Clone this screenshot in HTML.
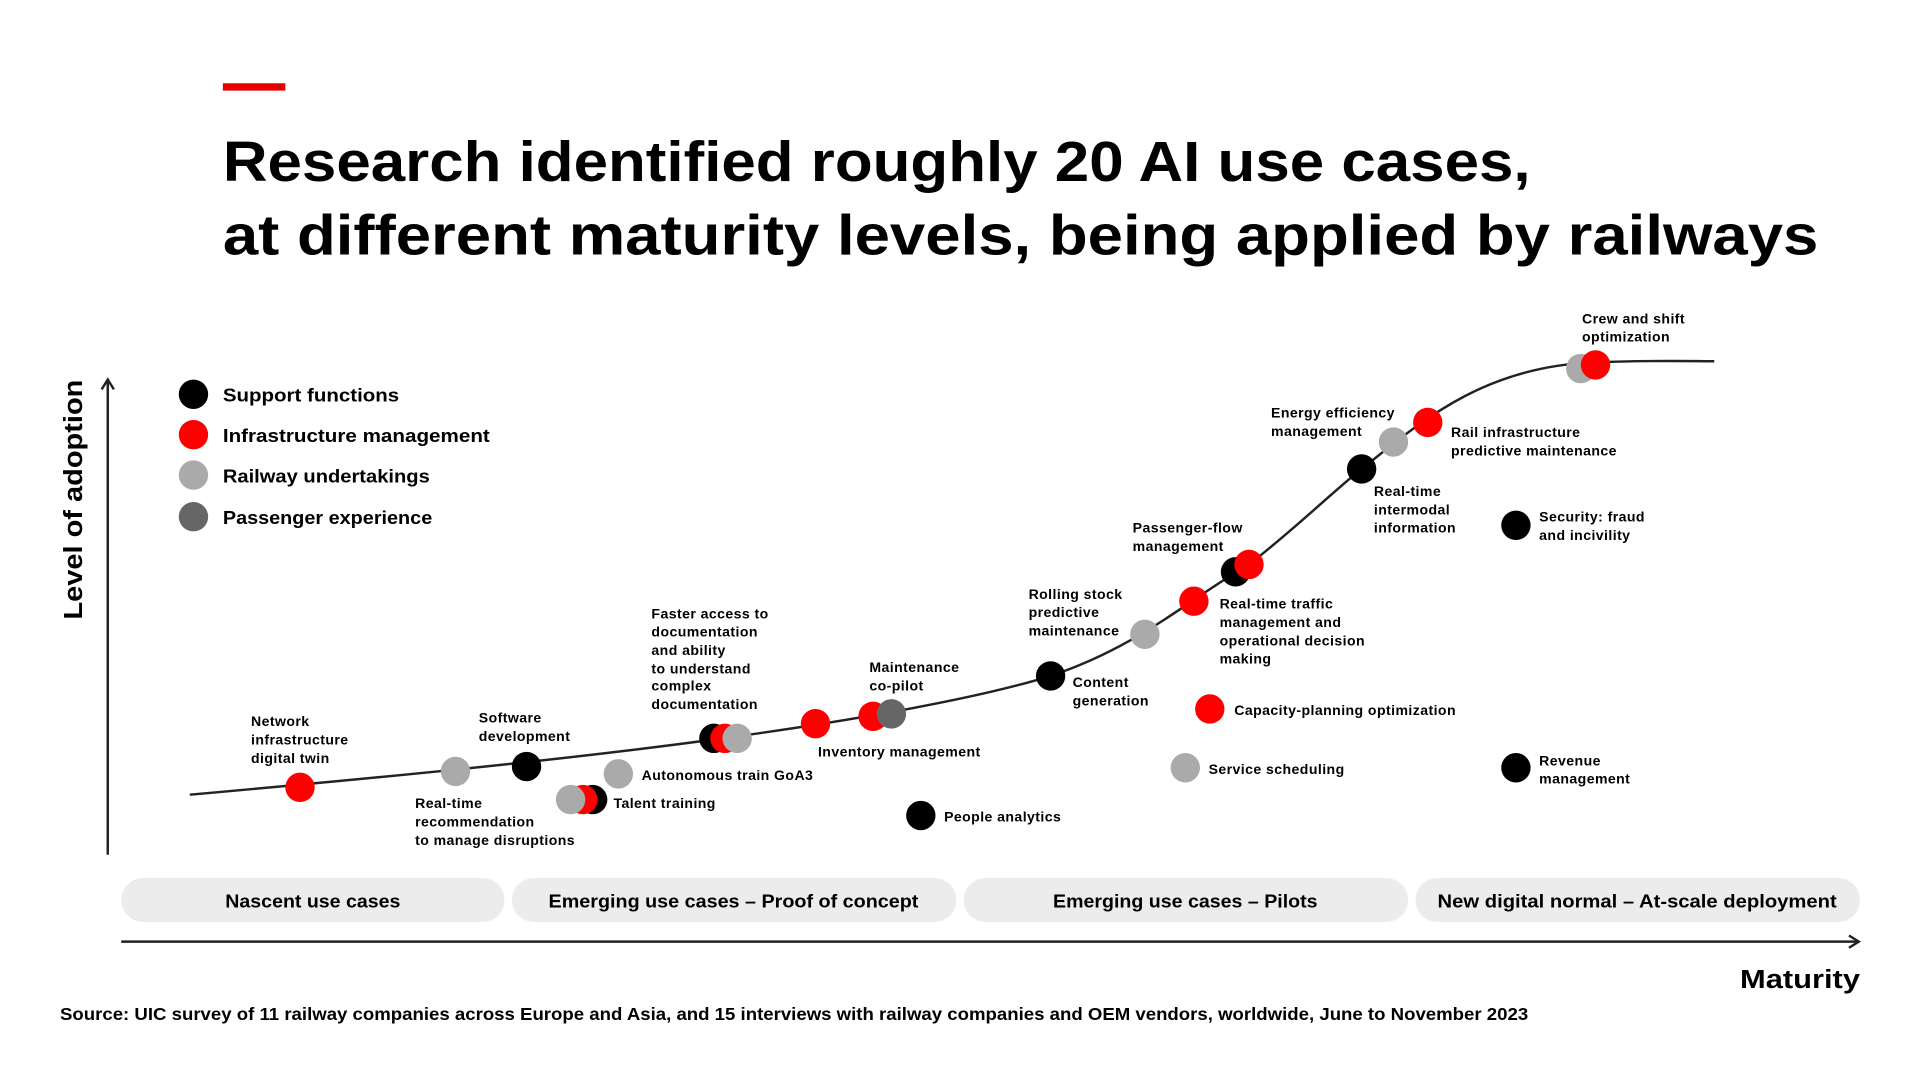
<!DOCTYPE html>
<html><head><meta charset="utf-8"><style>html,body{margin:0;padding:0;background:#fff}svg{display:block}text{font-family:"Liberation Sans",sans-serif;fill:#000}</style></head>
<body>
<svg width="1920" height="1080" viewBox="0 0 1568 882" preserveAspectRatio="none" xmlns="http://www.w3.org/2000/svg">
<rect x="182" y="68" width="51" height="6" fill="#e60000"/>
<text x="182" y="148" font-size="46" font-weight="bold" textLength="1068" lengthAdjust="spacingAndGlyphs">Research identified roughly 20 AI use cases,</text>
<text x="182" y="208" font-size="46" font-weight="bold" textLength="1303" lengthAdjust="spacingAndGlyphs">at different maturity levels, being applied by railways</text>

<!-- y axis -->
<line x1="88" y1="698" x2="88" y2="312" stroke="#222" stroke-width="2"/>
<path d="M83 318 L88 310 L93 318" fill="none" stroke="#222" stroke-width="2"/>
<text transform="translate(67,506) rotate(-90)" font-size="21" font-weight="bold" textLength="196" lengthAdjust="spacingAndGlyphs">Level of adoption</text>

<!-- legend -->
<circle cx="158" cy="322" r="12" fill="#000"/><text x="182" y="328" font-size="15" font-weight="bold" textLength="144" lengthAdjust="spacingAndGlyphs">Support functions</text>
<circle cx="158" cy="355" r="12" fill="#f00"/><text x="182" y="361" font-size="15" font-weight="bold" textLength="218" lengthAdjust="spacingAndGlyphs">Infrastructure management</text>
<circle cx="158" cy="388" r="12" fill="#aaa"/><text x="182" y="394" font-size="15" font-weight="bold" textLength="169" lengthAdjust="spacingAndGlyphs">Railway undertakings</text>
<circle cx="158" cy="422" r="12" fill="#666"/><text x="182" y="428" font-size="15" font-weight="bold" textLength="171" lengthAdjust="spacingAndGlyphs">Passenger experience</text>

<!-- curve -->
<path d="M155 649 C300 636 450 622 590 603 C700 588 800 570 858 552 C930 528 970 490 1020 461 C1060 430 1090 400 1112 383 C1160 345 1210 300 1300 296 C1350 294 1380 295 1400 295" fill="none" stroke="#222" stroke-width="2"/>

<g font-size="11.5" font-weight="bold" letter-spacing="0.35">
<circle cx="245" cy="643" r="12" fill="#f00"/>
<text x="205" y="593">Network</text><text x="205" y="608">infrastructure</text><text x="205" y="623">digital twin</text>
<circle cx="372" cy="630" r="12" fill="#aaa"/>
<text x="339" y="660">Real-time</text><text x="339" y="675">recommendation</text><text x="339" y="690">to manage disruptions</text>
<circle cx="430" cy="626" r="12" fill="#000"/>
<text x="391" y="590">Software</text><text x="391" y="605">development</text>
<circle cx="505" cy="632" r="12" fill="#aaa"/>
<text x="524" y="637">Autonomous train GoA3</text>
<circle cx="484" cy="653" r="12" fill="#000"/><circle cx="476" cy="653" r="12" fill="#f00"/><circle cx="466" cy="653" r="12" fill="#aaa"/>
<text x="501" y="660">Talent training</text>
<circle cx="583" cy="603" r="12" fill="#000"/><circle cx="592" cy="603" r="12" fill="#f00"/><circle cx="602" cy="603" r="12" fill="#aaa"/>
<text x="532" y="505">Faster access to</text><text x="532" y="520">documentation</text><text x="532" y="535">and ability</text><text x="532" y="550">to understand</text><text x="532" y="564">complex</text><text x="532" y="579">documentation</text>
<circle cx="666" cy="591" r="12" fill="#f00"/>
<text x="668" y="618">Inventory management</text>
<circle cx="713" cy="585" r="12" fill="#f00"/><circle cx="728" cy="583" r="12" fill="#666"/>
<text x="710" y="549">Maintenance</text><text x="710" y="564">co-pilot</text>
<circle cx="752" cy="666" r="12" fill="#000"/>
<text x="771" y="671">People analytics</text>
<circle cx="858" cy="552" r="12" fill="#000"/>
<text x="876" y="561">Content</text><text x="876" y="576">generation</text>
<circle cx="935" cy="518" r="12" fill="#aaa"/>
<text x="840" y="489">Rolling stock</text><text x="840" y="504">predictive</text><text x="840" y="519">maintenance</text>
<circle cx="975" cy="491" r="12" fill="#f00"/>
<text x="996" y="497">Real-time traffic</text><text x="996" y="512">management and</text><text x="996" y="527">operational decision</text><text x="996" y="542">making</text>
<circle cx="1009" cy="467" r="12" fill="#000"/><circle cx="1020" cy="461" r="12" fill="#f00"/>
<text x="925" y="435">Passenger-flow</text><text x="925" y="450">management</text>
<circle cx="988" cy="579" r="12" fill="#f00"/>
<text x="1008" y="584">Capacity-planning optimization</text>
<circle cx="968" cy="627" r="12" fill="#aaa"/>
<text x="987" y="632">Service scheduling</text>
<circle cx="1112" cy="383" r="12" fill="#000"/>
<text x="1122" y="405">Real-time</text><text x="1122" y="420">intermodal</text><text x="1122" y="435">information</text>
<circle cx="1138" cy="361" r="12" fill="#aaa"/>
<text x="1038" y="341">Energy efficiency</text><text x="1038" y="356">management</text>
<circle cx="1166" cy="345" r="12" fill="#f00"/>
<text x="1185" y="357">Rail infrastructure</text><text x="1185" y="372">predictive maintenance</text>
<circle cx="1238" cy="429" r="12" fill="#000"/>
<text x="1257" y="426">Security: fraud</text><text x="1257" y="441">and incivility</text>
<circle cx="1238" cy="627" r="12" fill="#000"/>
<text x="1257" y="625">Revenue</text><text x="1257" y="640">management</text>
<circle cx="1291" cy="301" r="12" fill="#aaa"/><circle cx="1303" cy="298" r="12" fill="#f00"/>
<text x="1292" y="264">Crew and shift</text><text x="1292" y="279">optimization</text>
</g>

<!-- stage pills -->
<g fill="#ececec">
<rect x="99" y="717" width="313" height="36" rx="18"/>
<rect x="418" y="717" width="363" height="36" rx="18"/>
<rect x="787" y="717" width="363" height="36" rx="18"/>
<rect x="1156" y="717" width="363" height="36" rx="18"/>
</g>
<g font-size="15" font-weight="bold">
<text x="184" y="741" textLength="143" lengthAdjust="spacingAndGlyphs">Nascent use cases</text>
<text x="448" y="741" textLength="302" lengthAdjust="spacingAndGlyphs">Emerging use cases – Proof of concept</text>
<text x="860" y="741" textLength="216" lengthAdjust="spacingAndGlyphs">Emerging use cases – Pilots</text>
<text x="1174" y="741" textLength="326" lengthAdjust="spacingAndGlyphs">New digital normal – At-scale deployment</text>
</g>

<line x1="99" y1="769" x2="1517" y2="769" stroke="#222" stroke-width="2"/>
<path d="M1510 764 L1518 769 L1510 774" fill="none" stroke="#222" stroke-width="2"/>
<text x="1421" y="807" font-size="21" font-weight="bold" textLength="98" lengthAdjust="spacingAndGlyphs">Maturity</text>
<text x="49" y="833" font-size="14" font-weight="bold" textLength="1199" lengthAdjust="spacingAndGlyphs">Source: UIC survey of 11 railway companies across Europe and Asia, and 15 interviews with railway companies and OEM vendors, worldwide, June to November 2023</text>
</svg>
</body></html>
